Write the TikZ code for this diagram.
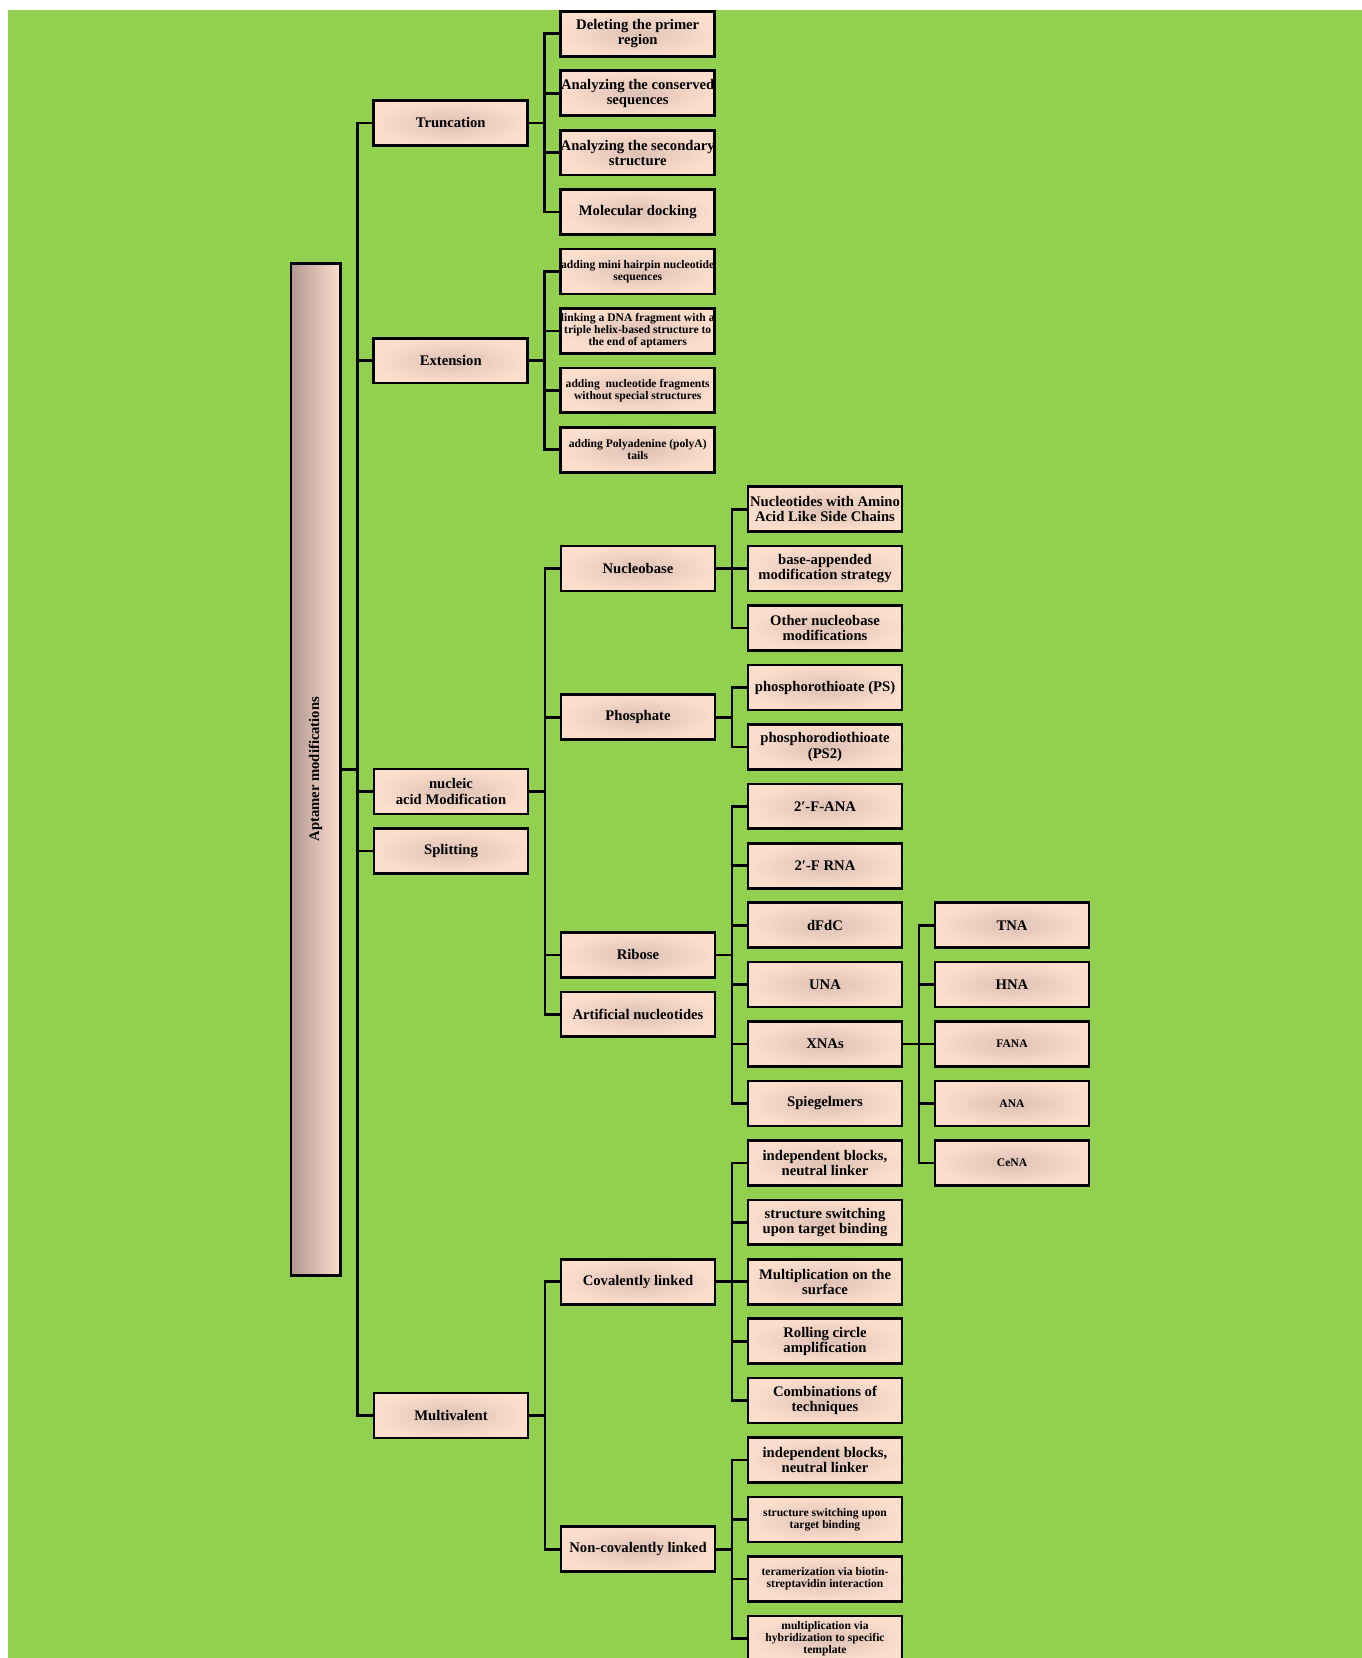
\documentclass[tikz,border=0pt]{standalone}
\usepackage{fontspec}
\setmainfont{Liberation Serif}
\usepackage{tikz}
\usetikzlibrary{positioning, calc}
\definecolor{LeafGreen}{RGB}{146,208,80}
\definecolor{PeachEdge}{RGB}{253,222,205}
\definecolor{PeachCore}{RGB}{221,193,179}
\definecolor{PeachDeep}{RGB}{178,152,145}
\newcommand{\bigtxt}{\fontsize{11}{11.4}\selectfont\bfseries}
\newcommand{\smalltxt}{\fontsize{8.7}{9}\selectfont\bfseries}

\begin{document}
\begin{tikzpicture}[
    x=1pt, y=1pt,
    box/.style={
      rectangle,
      draw=black,
      line width=2pt,
      inner color=PeachCore,
      outer color=PeachEdge,
      minimum width=115.4pt,
      minimum height=33.7pt,
      inner sep=0pt,
      align=center,
      font=\bigtxt,
    },
    small/.style={font=\smalltxt},
    rootbox/.style={
      rectangle,
      draw=black,
      line width=2pt,
      left color=PeachDeep,
      right color=PeachEdge,
      minimum width=36.9pt,
      minimum height=759pt,
      inner sep=0pt,
      font=\bigtxt,
    },
    wire/.style={draw=black, line width=2pt},
    node distance=8.87pt,
  ]
    \useasboundingbox (0,0) rectangle (1021.5,-1243.5);
    \fill[LeafGreen] (6,-7.5) rectangle (1021.5,-1243.5);

    % third column: children of Truncation and Extension
    \node[box] (t1) at (478.3,-25.35) {Deleting the primer\\region};
    \node[box, below=of t1] (t2) {Analyzing the conserved\\sequences};
    \node[box, below=of t2] (t3) {Analyzing the secondary\\structure};
    \node[box, below=of t3] (t4) {Molecular docking};
    \node[box, small, below=of t4] (e1) {adding mini hairpin nucleotide\\sequences};
    \node[box, small, below=of e1] (e2) {linking a DNA fragment with a\\triple helix-based structure to\\the end of aptamers};
    \node[box, small, below=of e2] (e3) {adding\ \ nucleotide fragments\\without special structures};
    \node[box, small, below=of e3] (e4) {adding Polyadenine (polyA)\\tails};

    % fourth column
    \node[box] (nb1) at (618.75,-381.9) {Nucleotides with Amino\\Acid Like Side Chains};
    \node[box, below=of nb1] (nb2) {base-appended\\modification strategy};
    \node[box, below=of nb2] (nb3) {Other nucleobase\\modifications};
    \node[box, below=of nb3] (ph1) {phosphorothioate (PS)};
    \node[box, below=of ph1] (ph2) {phosphorodiothioate\\(PS2)};
    \node[box, below=of ph2] (ri1) {2′-F-ANA};
    \node[box, below=of ri1] (ri2) {2′-F RNA};
    \node[box, below=of ri2] (ri3) {dFdC};
    \node[box, below=of ri3] (ri4) {UNA};
    \node[box, below=of ri4] (ri5) {XNAs};
    \node[box, below=of ri5] (ri6) {Spiegelmers};
    \node[box, below=of ri6] (cv1) {independent blocks,\\neutral linker};
    \node[box, below=of cv1] (cv2) {structure switching\\upon target binding};
    \node[box, below=of cv2] (cv3) {Multiplication on the\\surface};
    \node[box, below=of cv3] (cv4) {Rolling circle\\amplification};
    \node[box, below=of cv4] (cv5) {Combinations of\\techniques};
    \node[box, below=of cv5] (nc1) {independent blocks,\\neutral linker};
    \node[box, small, below=of nc1] (nc2) {structure switching upon\\target binding};
    \node[box, small, below=of nc2] (nc3) {teramerization via biotin-\\streptavidin interaction};
    \node[box, small, below=of nc3] (nc4) {multiplication via\\hybridization to specific\\template};

    % fifth column
    \node[box] (x1) at ($(ri3)+(140.25,0)$) {TNA};
    \node[box, below=of x1] (x2) {HNA};
    \node[box, small, below=of x2] (x3) {FANA};
    \node[box, small, below=of x3] (x4) {ANA};
    \node[box, small, below=of x4] (x5) {CeNA};

    % third column parents
    \node[box] (nbase) at ($(nb1)!0.5!(nb3)+(-140.25,0)$) {Nucleobase};
    \node[box] (phos) at ($(ph1)!0.5!(ph2)+(-140.25,0)$) {Phosphate};
    \node[box] (ribo) at ($(ri1)!0.5!(ri6)+(-140.25,0)$) {Ribose};
    \node[box, below=of ribo] (artif) {Artificial nucleotides};
    \node[box] (cov) at ($(cv1)!0.5!(cv5)+(-140.25,0)$) {Covalently linked};
    \node[box] (ncov) at ($(nc1)!0.5!(nc4)+(-140.25,0)$) {Non-covalently linked};

    % second column
    \node[box] (trunc) at ($(t1)!0.5!(t4)+(-140.25,0)$) {Truncation};
    \node[box] (ext) at ($(e1)!0.5!(e4)+(-140.25,0)$) {Extension};
    \node[box] (nam) at ($(nbase)!0.5!(artif)+(-140.25,0)$) {nucleic\\acid Modification};
    \node[box, below=of nam] (split) {Splitting};
    \node[box] (multi) at ($(cov)!0.5!(ncov)+(-140.25,0)$) {Multivalent};

    \node[rootbox] (apt) at ($(trunc)!0.5!(multi)+(-101.45,0)$) {\rotatebox{90}{Aptamer modifications}};

    \foreach \c in {trunc,ext,nam,split,multi}
      \draw[wire] (apt.east) -- ++(11.8,0) |- (\c.west);
    \foreach \c in {t1,t2,t3,t4}
      \draw[wire] (trunc.east) -- ++(11.8,0) |- (\c.west);
    \foreach \c in {e1,e2,e3,e4}
      \draw[wire] (ext.east) -- ++(11.8,0) |- (\c.west);
    \foreach \c in {nbase,phos,ribo,artif}
      \draw[wire] (nam.east) -- ++(11.8,0) |- (\c.west);
    \foreach \c in {cov,ncov}
      \draw[wire] (multi.east) -- ++(11.8,0) |- (\c.west);
    \foreach \c in {nb1,nb2,nb3}
      \draw[wire] (nbase.east) -- ++(11.8,0) |- (\c.west);
    \foreach \c in {ph1,ph2}
      \draw[wire] (phos.east) -- ++(11.8,0) |- (\c.west);
    \foreach \c in {ri1,ri2,ri3,ri4,ri5,ri6}
      \draw[wire] (ribo.east) -- ++(11.8,0) |- (\c.west);
    \foreach \c in {cv1,cv2,cv3,cv4,cv5}
      \draw[wire] (cov.east) -- ++(11.8,0) |- (\c.west);
    \foreach \c in {nc1,nc2,nc3,nc4}
      \draw[wire] (ncov.east) -- ++(11.8,0) |- (\c.west);
    \foreach \c in {x1,x2,x3,x4,x5}
      \draw[wire] (ri5.east) -- ++(11.8,0) |- (\c.west);
  \end{tikzpicture}
\end{document}
